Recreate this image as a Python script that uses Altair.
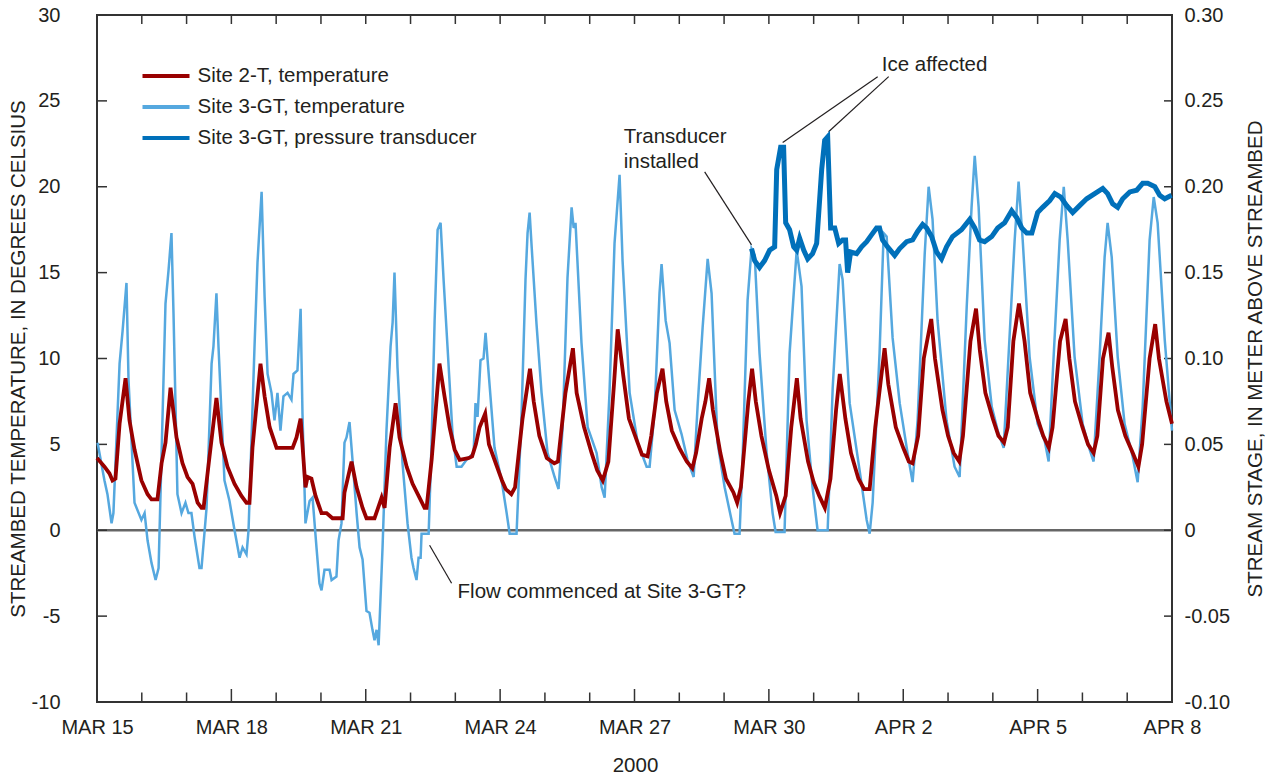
import altair as alt
import pandas as pd

# ---------------------------------------------------------------------------
# Readings: hours after 15 March 2000 00:00, with the value at that time
# ---------------------------------------------------------------------------

# Site 2-T streambed temperature, degrees Celsius
site2_hours = [
    0, 4, 6.7, 8.3, 9.9, 12.1, 15.3, 17.4, 20.1, 23.8, 27.1, 29.2, 32.4, 34.6, 36.7,
    39.4, 42.6, 45.8, 48.5, 51.2, 53.9, 56.0, 57.1, 60.3, 64.0, 66.7, 69.9, 73.7,
    77.4, 80.1, 81.7, 83.3, 87.6, 89.8, 92.5, 96.2, 104.8, 106.9, 109.1, 111.7,
    112.8, 114.9, 117.1, 120.3, 123.0, 126.2, 131.6, 132.6, 136.4, 139.1, 142.3,
    144.4, 148.7, 152.5, 154.1, 156.8, 160.0, 162.1, 165.9, 169.1, 172.8, 175.5,
    176.6, 179.3, 183.5, 186.2, 188.9, 191.6, 194.3,
    199, 201, 203, 205, 208, 210, 214, 217, 219, 222,
    224, 228, 232, 234, 237, 241, 245, 247, 251, 255,
    257, 261, 265, 268, 271, 274, 277, 279, 282, 285,
    290, 292, 295, 297, 300, 303, 305, 308, 312, 316,
    319, 321, 324, 326, 328, 330, 334, 337, 341, 343,
    345, 349, 351, 353, 356, 360, 364, 366, 369, 372,
    375, 377, 381, 384, 387, 390, 393, 396, 398, 401,
    404, 408, 411, 414, 417, 422, 424, 428, 432, 435,
    437, 440, 443, 447, 449, 453, 456, 459, 462, 464,
    468, 471, 473, 476, 480, 483, 486, 488, 491, 494,
    497, 500, 504, 507, 510, 512, 516, 519, 521, 524,
    528, 531, 534, 536, 539, 542, 544, 547, 551, 555,
    558, 560, 564, 567, 569, 573, 576,
]
site2_temp = [
    4.2, 3.7, 3.3, 2.9, 3.0, 6.2, 8.85, 6.4, 4.7, 2.9, 2.1, 1.8, 1.8, 3.9, 5.1,
    8.3, 5.4, 3.9, 3.1, 2.7, 1.6, 1.3, 1.3, 4.3, 7.7, 5.1, 3.7, 2.7,
    2.0, 1.6, 1.6, 4.8, 9.7, 7.8, 6.0, 4.8, 4.8, 5.4, 6.5, 2.5,
    3.1, 3.0, 2.0, 1.0, 1.0, 0.7, 0.7, 2.2, 4.0, 2.5, 1.3,
    0.7, 0.7, 1.9, 1.3, 4.8, 7.4, 5.4, 3.7, 2.7, 1.9, 1.3,
    1.3, 4.1, 9.7, 7.8, 6.0, 4.7, 4.1,
    4.2, 4.3, 5.0, 6.0, 6.8, 5.0, 3.8, 2.9, 2.4, 2.1,
    2.5, 6.5, 9.4, 7.5, 5.5, 4.2, 3.9, 4.0, 8.0, 10.6,
    8.0, 6.0, 4.5, 3.5, 2.9, 4.0, 8.5, 11.7, 9.0, 6.5,
    5.0, 4.4, 4.3, 5.5, 8.0, 9.4, 7.5, 5.8, 4.8, 4.0,
    3.6, 4.5, 6.5, 7.5, 8.85, 7.0, 4.5, 3.0, 2.2, 1.6,
    2.5, 7.5, 9.4, 7.5, 5.5, 3.5, 2.0, 1.0, 2.0, 6.0,
    8.85, 6.5, 4.0, 2.8, 2.0, 1.3, 3.0, 7.0, 9.1, 6.5,
    4.5, 3.0, 2.4, 2.4, 6.0, 10.6, 8.5, 6.0, 4.8, 4.0,
    3.9, 5.5, 10.0, 12.3, 10.0, 7.0, 5.5, 4.5, 4.0, 5.5,
    11.0, 12.9, 10.5, 8.0, 6.5, 5.5, 5.1, 6.0, 11.0, 13.2,
    11.0, 8.0, 6.5, 5.5, 4.8, 6.0, 11.0, 12.3, 10.0, 7.5,
    6.0, 5.0, 4.5, 5.5, 10.0, 11.5, 9.5, 7.0, 5.5, 4.5,
    3.7, 5.0, 10.0, 12.0, 10.0, 7.5, 6.2,
]

# Site 3-GT streambed temperature, degrees Celsius
site3_hours = [
    0.3, 4.0, 5.6, 7.8, 8.8, 12.1, 13.7, 15.8, 16.9, 20.1, 23.8, 25.5, 27.1, 29.2,
    31.4, 33.0, 36.7, 38.3, 39.9, 41.0, 43.1, 45.3, 47.4, 49.0, 50.6, 52.3, 54.9,
    56.0, 58.7, 61.4, 62.4, 64.0, 65.1, 68.3, 71.0, 73.7, 76.4, 78.0, 80.1, 81.2,
    84.4, 86.0, 88.2, 89.8, 91.4, 93.5, 95.1, 96.7, 98.3, 99.9, 102.1, 104.2,
    105.3, 107.4, 109.1, 110.1, 111.7, 113.9, 115.5, 117.6, 119.2, 120.3, 121.9,
    124.6, 125.7, 128.3, 129.4, 131.0, 132.6, 133.7, 135.3, 136.9, 139.1, 140.7,
    142.3, 144.4, 146.0, 147.6, 148.7, 149.8, 150.9, 153.0, 155.1, 157.3, 158.4,
    159.4, 161.0, 163.7, 166.4, 168.5, 169.6, 171.2, 172.3, 173.4, 173.9, 177.7,
    179.3, 180.9, 182.5, 184.1, 185.7, 187.8, 190.5, 192.7, 195.3, 198.0, 201.8,
    202.8, 203.9, 205.5, 207.1, 208.2, 209.3, 213.0, 216.8, 219.5, 221.1, 224.8,
    227.5, 229.6, 230.7, 231.8, 232.9, 235.5, 238.2, 241.4, 245.2, 247.3, 249.5,
    252.1, 254.3, 255.4, 256.4, 259.6, 262.9, 267.7, 270.4, 272.0, 274.6, 277.3,
    280.0, 281.6, 285.4, 289.7, 294.5, 296.1, 298.8, 301.4, 302.5, 304.7, 306.8,
    309.5, 313.2, 316.4, 319.7, 321.8, 324.5, 327.2, 329.3, 332.5, 336.3, 340.0,
    341.6, 344.3, 345.9, 348.6, 350.7, 352.4, 355.0, 358.8, 362.0, 363.6, 368.4,
    371.1, 374.9, 377.5, 380.2, 383.4, 386.1, 391.5, 394.2, 397.9, 399.5, 403.3,
    408.6, 412.4, 414.0, 415.6, 419.3, 421.5, 423.1, 426.3, 430.1, 434.3, 437.0,
    439.7, 443.5, 445.6, 447.7, 450.4, 455.2, 459.5, 462.2, 466.0, 468.6, 470.3,
    472.4, 475.6, 479.4, 482.6, 485.8, 487.9, 491.7, 493.8, 496.0, 499.7, 504.0,
    507.8, 509.9, 512.1, 515.8, 518.0, 520.1, 523.8, 528.1, 531.9, 534.0, 537.2,
    539.9, 541.5, 543.7, 546.9, 550.6, 554.9, 557.6, 560.3, 564.0, 566.2, 568.3,
    572.1, 576.0,
]
site3_temp = [
    5.1, 2.9, 2.1, 0.4, 1.0, 9.7, 11.6, 14.4, 8.7, 1.6, 0.6, 1.0, -0.6, -1.9,
    -2.9, -2.2, 13.2, 15.1, 17.3, 12.6, 2.1, 1.0, 1.6, 1.0, 1.0, -0.4, -2.2,
    -2.2, 1.3, 9.7, 10.7, 13.8, 10.7, 2.9, 1.7, 0.0, -1.6, -1.0, -1.4, 0.0,
    10.7, 15.6, 19.7, 13.6, 9.1, 8.0, 6.4, 8.0, 5.8, 7.8, 8.0, 7.6,
    9.1, 9.3, 12.9, 6.8, 0.4, 1.7, 1.9, -1.0, -3.1, -3.5, -2.3,
    -2.3, -2.9, -2.7, -0.6, 0.4, 5.1, 5.4, 6.3, 4.1, 1.0, -1.0,
    -1.7, -4.7, -4.8, -5.8, -6.4, -5.8, -6.7, -1.0, 5.8, 10.7, 12.1,
    15.0, 9.5, 3.9, 0.4, -1.6, -2.2, -2.9, -1.6, -1.6, -0.2, -0.2,
    5.2, 12.2, 17.5, 17.9, 14.6, 10.7, 5.6, 3.7, 3.7, 4.1, 4.5,
    7.4, 6.6, 9.9, 10.0, 11.5, 9.9, 4.8, 2.9, 1.0, -0.2, -0.2,
    6.8, 14.6, 17.3, 18.5, 16.5, 12.0, 8.0, 4.5, 3.1, 2.4, 6.0,
    14.7, 18.8, 17.6, 17.9, 10.9, 6.0, 4.5, 2.5, 1.9, 8.0, 16.7,
    20.7, 15.7, 8.0, 5.1, 3.7, 3.7, 7.0, 13.8, 15.5, 12.2, 10.9,
    7.0, 5.6, 4.1, 3.1, 7.2, 11.8, 15.8, 13.8, 5.1, 2.5, 0.6,
    -0.2, -0.2, 4.1, 13.4, 16.4, 16.0, 10.3, 4.5, 1.0, -0.1, -0.1,
    10.3, 16.3, 14.2, 6.4, 2.5, 0.0, 0.0, 8.3, 15.5, 14.6, 7.4,
    3.5, 0.6, -0.2, 1.6, 10.3, 17.3, 17.1, 11.2, 7.4, 4.5, 2.8,
    6.4, 16.1, 20.0, 18.1, 12.2, 6.4, 3.7, 3.1, 13.0, 18.8, 21.8,
    18.8, 11.1, 7.2, 5.8, 4.8, 9.1, 16.9, 20.3, 16.9, 10.1, 6.2,
    5.2, 4.0, 9.1, 16.9, 20.0, 16.9, 10.1, 6.2, 4.7, 4.0, 10.1,
    15.9, 17.9, 15.9, 10.1, 6.2, 4.3, 2.8, 7.2, 16.9, 19.4, 17.9,
    11.1, 5.8,
]

# Site 3-GT pressure transducer, stream stage in meters above streambed
stage_hours = [
    350.7, 352.4, 355.0, 357.7, 360.4, 363.1, 364.2, 366.3, 367.9, 369.0, 371.1,
    373.3, 374.9, 376.5, 378.7, 380.8, 383.4, 385.6, 388.3, 389.9, 391.5, 393.1,
    395.3, 397.4, 399.5, 401.1, 402.2, 403.8, 407.0, 409.7, 412.4, 415.0, 417.7,
    419.3, 420.9, 423.6, 427.4, 430.1, 433.8, 437.0, 439.7, 442.4, 444.5, 447.2,
    449.9, 452.5, 455.2, 458.4, 463.2, 467.6, 470.3, 472.9, 475.6, 479.4, 482.6,
    486.3, 490.1, 492.8, 495.5, 498.2, 500.9, 504.0, 506.7, 510.5, 513.2, 516.4,
    519.6, 522.8, 526.5, 530.3, 534.6, 538.9, 541.5, 544.2, 546.9, 549.6, 553.4,
    557.1, 560.3, 563.0, 566.8, 569.4, 572.1, 575.8,
]
stage_m = [
    0.164, 0.157, 0.153, 0.157, 0.163, 0.165, 0.210, 0.223, 0.223, 0.179, 0.175,
    0.165, 0.163, 0.170, 0.163, 0.158, 0.161, 0.167, 0.210, 0.227, 0.229, 0.176,
    0.176, 0.167, 0.169, 0.169, 0.150, 0.162, 0.161, 0.165, 0.168, 0.172, 0.176,
    0.176, 0.169, 0.165, 0.160, 0.164, 0.168, 0.169, 0.174, 0.178, 0.176, 0.171,
    0.162, 0.158, 0.165, 0.171, 0.175, 0.181, 0.176, 0.169, 0.168, 0.171, 0.176,
    0.179, 0.186, 0.182, 0.176, 0.173, 0.173, 0.185, 0.188, 0.192, 0.196, 0.194,
    0.189, 0.185, 0.189, 0.193, 0.196, 0.199, 0.196, 0.190, 0.188, 0.193, 0.197,
    0.198, 0.202, 0.202, 0.200, 0.195, 0.193, 0.195,
]

assert len(site2_hours) == len(site2_temp)
assert len(site3_hours) == len(site3_temp)
assert len(stage_hours) == len(stage_m)

SERIES = ["Site 2-T, temperature", "Site 3-GT, temperature", "Site 3-GT, pressure transducer"]
COLORS = ["#990000", "#55a8df", "#0070ba"]

# Axis ticks
temp_ticks = [-10, -5, 0, 5, 10, 15, 20, 25, 30]
stage_ticks = [-0.10, -0.05, 0, 0.05, 0.10, 0.15, 0.20, 0.25, 0.30]
label_days = [(3, 15), (3, 18), (3, 21), (3, 24), (3, 27), (3, 30), (4, 2), (4, 5), (4, 8)]

# Notes written on the plot (hours, temperature)
note_text = ["Transducer", "installed", "Flow commenced at Site 3-GT?"]
note_hours = [282.2, 282.2, 193.2]
note_temp = [22.9, 21.46, -3.62]
ice_text = ["Ice affected"]
ice_hours = [448.8]
ice_temp = [27.06]
# Leader lines: from (hours, temp) to (hours2, temp2)
lead_hours = [418.3, 424.2, 325.6, 178.2]
lead_temp = [26.41, 26.41, 20.87, -0.87]
lead_hours2 = [367.4, 392.0, 350.7, 190.0]
lead_temp2 = [22.57, 23.2, 16.62, -3.09]

START = pd.Timestamp("2000-03-15 00:00")
FONT = "Liberation Sans"
INK = "#231f20"
W, H = 1075, 687
TXT = 20.5


def when(hours):
    return START + pd.to_timedelta(hours, unit="h")


site2 = pd.DataFrame({"time": when(site2_hours), "T": site2_temp, "series": SERIES[0]})
site3 = pd.DataFrame({"time": when(site3_hours), "T": site3_temp, "series": SERIES[1]})
stage = pd.DataFrame({"time": when(stage_hours), "stage": stage_m, "series": SERIES[2]})

days = pd.date_range("2000-03-15", "2000-04-08", freq="D")
major_days = pd.DataFrame({"time": days[::3]})
minor_days = pd.DataFrame({"time": [d for i, d in enumerate(days) if i % 3]})
all_days = pd.DataFrame({"time": days})
temp_tick_df = pd.DataFrame({"T": temp_ticks})

notes = pd.DataFrame({"time": when(note_hours), "T": note_temp, "label": note_text})
ice = pd.DataFrame({"time": when(ice_hours), "T": ice_temp, "label": ice_text})
leads = pd.DataFrame({
    "time": when(lead_hours), "T": lead_temp,
    "time2": when(lead_hours2), "T2": lead_temp2,
})

x_scale = alt.Scale(domain=[alt.DateTime(year=2000, month=3, date=15),
                            alt.DateTime(year=2000, month=4, date=8)])
x_axis = alt.Axis(
    values=[alt.DateTime(year=2000, month=m, date=d) for m, d in label_days],
    labelExpr="upper(timeFormat(datum.value, '%b %-d'))",
    ticks=False, tickSize=0, domain=False, grid=False,
    labelPadding=15, labelFlush=False, labelOverlap=False,
    title="2000", titleX=538, titleY=63, titleAlign="center", titleBaseline="middle",
)
t_scale = alt.Scale(domain=[-10, 30], nice=False, zero=False)
t_axis = alt.Axis(
    orient="left", values=temp_ticks, ticks=False, tickSize=0, domain=False, grid=False,
    labelPadding=37, labelOverlap=False,
    labelExpr="datum.value < 0 ? '-' + format(-datum.value, 'd') : format(datum.value, 'd')",
    title="STREAMBED TEMPERATURE, IN DEGREES CELSIUS",
    titleX=-79, titleY=H / 2, titleAngle=270, titleAlign="center", titleBaseline="middle",
)
s_scale = alt.Scale(domain=[-0.10, 0.30], nice=False, zero=False)
s_axis = alt.Axis(
    orient="right", values=stage_ticks, ticks=False, tickSize=0, domain=False, grid=False,
    labelPadding=12, labelOverlap=False,
    labelExpr="abs(datum.value) < 1e-9 ? '0' : (datum.value < 0 ? '-' : '') + format(abs(datum.value), '.2f')",
    title="STREAM STAGE, IN METER ABOVE STREAMBED",
    titleX=83, titleY=H / 2, titleAngle=270, titleAlign="center", titleBaseline="middle",
)
legend = alt.Legend(
    orient="none", legendX=57, legendY=49, direction="vertical", title=None,
    symbolType="M-2.35,0L2.35,0", symbolSize=400, symbolStrokeWidth=3.8,
    labelFontSize=TXT, labelFont=FONT, labelColor=INK, labelOffset=19.5,
    rowPadding=8, padding=0, labelLimit=500,
)


def X():
    return alt.X("time:T", scale=x_scale, axis=x_axis)


def YT():
    return alt.Y("T:Q", scale=t_scale, axis=t_axis)


def COLOR():
    return alt.Color("series:N", scale=alt.Scale(domain=SERIES, range=COLORS), legend=legend)


zero_line = alt.Chart(pd.DataFrame({"T": [0]})).mark_rule(
    color="#666666", strokeWidth=2.5).encode(y=YT())

bottom_major = alt.Chart(major_days).mark_rule(color="#333333", strokeWidth=1.5).encode(
    x=X(), y=alt.value(H), y2=alt.value(H - 13))
bottom_minor = alt.Chart(minor_days).mark_rule(color="#333333", strokeWidth=1.5).encode(
    x=X(), y=alt.value(H), y2=alt.value(H - 9.5))
top_ticks = alt.Chart(all_days).mark_rule(color="#333333", strokeWidth=1.5).encode(
    x=X(), y=alt.value(0), y2=alt.value(9))
left_ticks = alt.Chart(temp_tick_df).mark_rule(color="#333333", strokeWidth=1.5).encode(
    y=YT(), x=alt.value(0), x2=alt.value(10))
right_ticks = alt.Chart(temp_tick_df).mark_rule(color="#333333", strokeWidth=1.5).encode(
    y=YT(), x=alt.value(W), x2=alt.value(W - 8))

site3_line = alt.Chart(site3).mark_line(strokeWidth=2.5).encode(
    x=X(), y=YT(), color=COLOR())
site2_line = alt.Chart(site2).mark_line(strokeWidth=3.8).encode(
    x=X(), y=YT(), color=COLOR())

lead_lines = alt.Chart(leads).mark_rule(color=INK, strokeWidth=1.2).encode(
    x=X(), y=YT(), x2=alt.X2("time2:T"), y2=alt.Y2("T2:Q"))
note_labels = alt.Chart(notes).mark_text(
    align="left", baseline="middle", fontSize=TXT, font=FONT, color=INK).encode(
    x=X(), y=YT(), text="label:N")
ice_label = alt.Chart(ice).mark_text(
    align="center", baseline="middle", fontSize=TXT, font=FONT, color=INK).encode(
    x=X(), y=YT(), text="label:N")

temperature_panel = alt.layer(
    zero_line, bottom_major, bottom_minor, top_ticks, left_ticks, right_ticks,
    site3_line, site2_line, lead_lines, note_labels, ice_label,
)

stage_line = alt.Chart(stage).mark_line(strokeWidth=5).encode(
    x=X(),
    y=alt.Y("stage:Q", scale=s_scale, axis=s_axis),
    color=COLOR(),
)

chart = alt.layer(temperature_panel, stage_line).resolve_scale(
    y="independent"
).properties(
    width=W, height=H,
    padding={"left": 97, "top": 15, "right": 99, "bottom": 76},
    autosize=alt.AutoSizeParams(type="none"),
).configure_view(
    stroke="#333333", strokeWidth=2,
).configure_axis(
    labelFont=FONT, titleFont=FONT, labelFontSize=20, titleFontSize=TXT,
    labelColor=INK, titleColor=INK, titleFontWeight="normal",
).configure_text(font=FONT)

chart.save("out.html", embed_options={"renderer": "svg", "actions": False})
